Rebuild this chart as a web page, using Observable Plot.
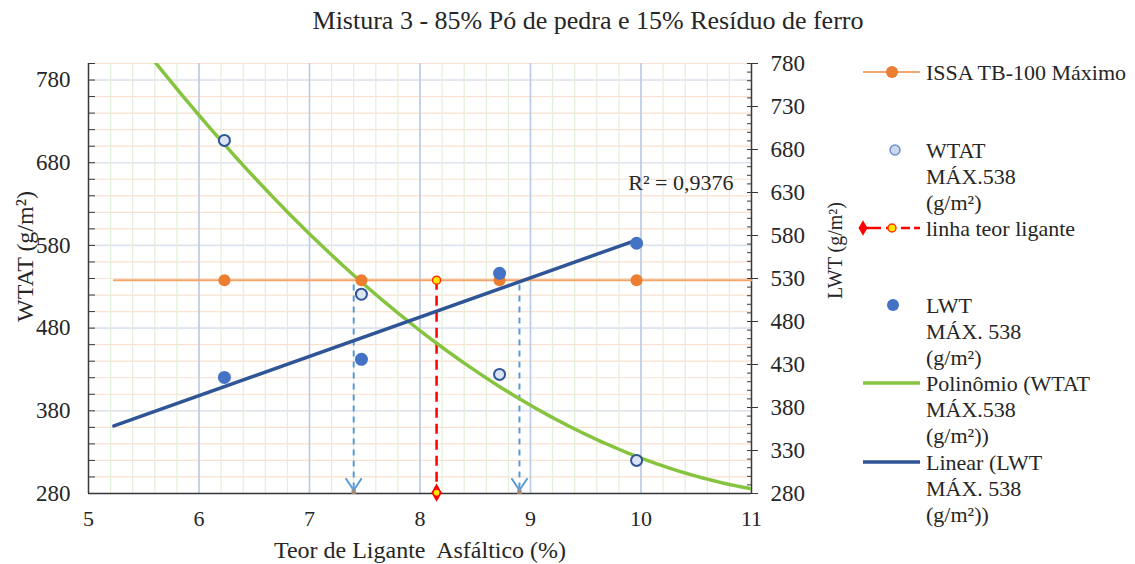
<!DOCTYPE html>
<html>
<head>
<meta charset="utf-8">
<title>Mistura 3 - 85% Pó de pedra e 15% Resíduo de ferro</title>
<script src="https://cdn.jsdelivr.net/npm/d3@7"></script>
<script src="https://cdn.jsdelivr.net/npm/@observablehq/plot@0.6"></script>
<style>
  body { margin: 0; background: #fff; }
  #grafico { position: relative; width: 1135px; height: 564px; font-family: 'Liberation Serif', serif; color: #262626; }
  #plot { position: absolute; left: 0; top: 0; width: 860px; }
  #titulo { position: absolute; left: 0; top: 4px; width: 1176px; text-align: center; font-family: 'Liberation Serif', serif; font-size: 26px; line-height: 34px; }
  #legenda { position: absolute; left: 840px; top: 0; }
</style>
</head>
<body>
<div id="grafico">
  <div id="plot"></div>
  <div id="titulo">Mistura 3 - 85% Pó de pedra e 15% Resíduo de ferro</div>
  <svg id="legenda" width="295" height="564"></svg>
</div>
<script>
// Teor de ligante asfáltico (%) dos corpos de prova
const teor = [6.23, 7.47, 8.72, 9.96];
// WTAT (g/m²) – eixo esquerdo
const wtat = [707, 521, 424, 320];
// LWT (g/m²) – eixo direito
const lwt = [415, 436, 536, 571];
// Limite ISSA TB-100 (g/m²)
const issaMax = 538;
// Faixa horizontal da linha ISSA (%)
const issaFaixa = [5.23, 11];
// Teores nos cruzamentos com o limite e teor de ligante escolhido (%)
const limites = [7.4, 8.9];
const teorLigante = 8.15;
// Coeficiente de determinação exibido
const r2Linear = 0.9376;

// Eixos
const xTicks = [5, 6, 7, 8, 9, 10, 11];
const yEsqTicks = [280, 380, 480, 580, 680, 780];
const yDirTicks = [280, 330, 380, 430, 480, 530, 580, 630, 680, 730, 780];
const xMin = 5, xMax = 11;
const yEsqMin = 280, yEsqMax = 800;
const yDirMin = 280, yDirMax = 780;

const fonte = "'Liberation Serif', serif";

// Conversão entre o eixo direito (LWT) e o esquerdo (WTAT)
const paraEsq = v => yEsqMin + (v - yDirMin) * (yEsqMax - yEsqMin) / (yDirMax - yDirMin);
const paraDir = v => yDirMin + (v - yEsqMin) * (yDirMax - yDirMin) / (yEsqMax - yEsqMin);

// Regressão linear por mínimos quadrados
function ajusteLinear(xs, ys) {
  const mx = d3.mean(xs), my = d3.mean(ys);
  const b = d3.sum(xs, (x, i) => (x - mx) * (ys[i] - my)) / d3.sum(xs, x => (x - mx) ** 2);
  return x => my + b * (x - mx);
}

// Regressão polinomial de 2ª ordem (equações normais)
function ajusteQuadratico(xs, ys) {
  const s = k => d3.sum(xs, x => x ** k);
  const t = k => d3.sum(xs, (x, i) => x ** k * ys[i]);
  const A = [[xs.length, s(1), s(2), t(0)], [s(1), s(2), s(3), t(1)], [s(2), s(3), s(4), t(2)]];
  for (let i = 0; i < 3; i++) {
    for (let j = i + 1; j < 3; j++) {
      const f = A[j][i] / A[i][i];
      for (let k = i; k < 4; k++) A[j][k] -= f * A[i][k];
    }
  }
  const c = [0, 0, 0];
  for (let i = 2; i >= 0; i--) {
    let v = A[i][3];
    for (let k = i + 1; k < 3; k++) v -= A[i][k] * c[k];
    c[i] = v / A[i][i];
  }
  return x => c[0] + c[1] * x + c[2] * x * x;
}

// Ponta de seta aberta em "V"
const pontaSeta = {
  draw(context, size) {
    const r = Math.sqrt(size / Math.PI);
    context.moveTo(-r, -1.5 * r);
    context.lineTo(0, 0);
    context.lineTo(r, -1.5 * r);
  }
};

const pontos = teor.map((x, i) => ({x, wtat: wtat[i], lwt: lwt[i]}));

const poli = ajusteQuadratico(teor, wtat);
const curva = d3.range(xMin, xMax + 1e-9, 0.05).map(x => ({x, y: poli(x)}));

const lin = ajusteLinear(teor, lwt);
const reta = [teor[0] - 1, teor[teor.length - 1]].map(x => ({x, y: paraEsq(lin(x))}));

const eixo = "#3a3a3a";

const grafico = Plot.plot({
  width: 860,
  height: 564,
  marginTop: 63,
  marginBottom: 71,
  marginLeft: 88,
  marginRight: 109,
  x: {domain: [xMin, xMax]},
  y: {domain: [yEsqMin, yEsqMax]},
  style: {fontFamily: fonte, fontSize: "23px", background: "transparent", color: "#262626"},
  marks: [
    // grade
    Plot.ruleY(d3.range(yEsqMin, yEsqMax + 1, 20), {stroke: "#fbe1cf", strokeWidth: 1.2}),
    Plot.ruleY(yEsqTicks, {stroke: "#dde5f3", strokeWidth: 1.6}),
    Plot.ruleX(d3.range(50, 111, 2).map(d => d / 10), {stroke: "#e1efd8", strokeWidth: 1.2}),
    Plot.ruleX(xTicks.slice(1, -1), {stroke: "#b9cbe9", strokeWidth: 1.6}),

    // eixos
    Plot.axisX({ticks: xTicks, tickFormat: d3.format("d"), tickSize: 0, tickPadding: 17, fontSize: 22, label: null}),
    Plot.axisY({ticks: yEsqTicks, tickFormat: d3.format("d"), tickSize: 0, tickPadding: 18, label: null}),
    Plot.axisY({ticks: d3.range(yEsqMin, yEsqMax + 1, 20), tickSize: 7, dx: 7, fill: "none", label: null, stroke: eixo}),
    Plot.axisY({anchor: "right", ticks: yDirTicks.map(paraEsq), tickFormat: d => String(Math.round(paraDir(d))), tickSize: 0, tickPadding: 19, label: null}),
    Plot.axisY({anchor: "right", ticks: d3.range(yDirMin, yDirMax + 1, 10).map(paraEsq), tickSize: 5, dx: -5, fill: "none", label: null, stroke: eixo}),
    Plot.axisY({anchor: "right", ticks: yDirTicks.map(paraEsq), tickSize: 11, dx: -5, fill: "none", label: null, stroke: eixo}),
    Plot.ruleX([xMin, xMax], {stroke: eixo, strokeWidth: 1.5}),
    Plot.ruleY([yEsqMin], {stroke: eixo, strokeWidth: 1.5}),

    // títulos dos eixos
    Plot.text(["WTAT (g/m²)"], {frameAnchor: "left", textAnchor: "middle", lineAnchor: "middle", rotate: -90, dx: -63, dy: -22, fontSize: 24}),
    Plot.text(["LWT (g/m²)"], {frameAnchor: "right", textAnchor: "middle", lineAnchor: "middle", rotate: -90, dx: 84, dy: -28, fontSize: 20}),
    Plot.text(["Teor de Ligante  Asfáltico (%)"], {frameAnchor: "bottom", lineAnchor: "middle", dy: 57, fontSize: 24}),

    // limite ISSA TB-100
    Plot.line(issaFaixa.map(x => ({x, y: issaMax})), {x: "x", y: "y", stroke: "#f3a56c", strokeWidth: 2}),

    // linhas de teor
    Plot.ruleX(limites, {y1: issaMax - 6, y2: yEsqMin + 3, stroke: "#5b9bd5", strokeWidth: 2, strokeDasharray: "6,5"}),
    Plot.dot(limites, {x: d => d, y: yEsqMin + 4, symbol: pontaSeta, r: 8, stroke: "#5b9bd5", strokeWidth: 2, fill: "none"}),
    Plot.dot(limites, {x: d => d, y: yEsqMin + 2, symbol: "square", r: 2.5, fill: "#a58a7a"}),
    Plot.ruleX([teorLigante], {y1: issaMax, y2: yEsqMin, stroke: "#ff0000", strokeWidth: 2.5, strokeDasharray: "10,6"}),

    // linhas de tendência
    Plot.line(curva, {x: "x", y: "y", stroke: "#86c440", strokeWidth: 3.5, clip: true}),
    Plot.line(reta, {x: "x", y: "y", stroke: "#2f5597", strokeWidth: 3.5}),

    // pontos
    Plot.dot(teor, {x: d => d, y: issaMax, r: 6, fill: "#ed7d31"}),
    Plot.dot(pontos, {x: "x", y: "wtat", r: 5.5, fill: "#dbe4f4", stroke: "#2f5597", strokeWidth: 2}),
    Plot.dot(pontos, {x: "x", y: d => paraEsq(d.lwt), r: 6.5, fill: "#4472c4"}),
    Plot.dot([teorLigante], {x: d => d, y: issaMax, r: 4, fill: "#ffe600", stroke: "#ff3300", strokeWidth: 1.5}),
    Plot.dot([teorLigante], {x: d => d, y: yEsqMin + 1, symbol: "diamond", r: 5.5, fill: "#ff0000"}),
    Plot.dot([teorLigante], {x: d => d, y: yEsqMin + 1, r: 2.8, fill: "#ffe600"}),

    // R² da reta
    Plot.text([`R² = ${d3.format(".4f")(r2Linear).replace(".", ",")}`], {frameAnchor: "top-right", dx: -18, dy: 119, textAnchor: "end", lineAnchor: "middle", fontSize: 22})
  ]
});
document.getElementById("plot").appendChild(grafico);

// Legenda
const legendaItens = [
  {tipo: "linhaPonto", y: 72, linhas: ["ISSA TB-100 Máximo"]},
  {tipo: "circuloAberto", y: 150, linhas: ["WTAT", "MÁX.538", "(g/m²)"]},
  {tipo: "teor", y: 228, linhas: ["linha teor ligante"]},
  {tipo: "circuloCheio", y: 305, linhas: ["LWT", "MÁX. 538", "(g/m²)"]},
  {tipo: "linhaVerde", y: 383, linhas: ["Polinômio (WTAT", "MÁX.538", "(g/m²))"]},
  {tipo: "linhaAzul", y: 462, linhas: ["Linear (LWT", "MÁX. 538", "(g/m²))"]}
];
const passo = 26.2;
const leg = d3.select("#legenda");
for (const item of legendaItens) {
  const g = leg.append("g").attr("transform", `translate(0,${item.y})`);
  if (item.tipo === "linhaPonto") {
    g.append("line").attr("x1", 23).attr("x2", 80).attr("stroke", "#f3a56c").attr("stroke-width", 2);
    g.append("circle").attr("cx", 52).attr("r", 6).attr("fill", "#ed7d31");
  } else if (item.tipo === "circuloAberto") {
    g.append("circle").attr("cx", 55).attr("r", 5).attr("fill", "#cad7ef").attr("stroke", "#6f8fcf").attr("stroke-width", 1.5);
  } else if (item.tipo === "teor") {
    g.append("line").attr("x1", 23).attr("x2", 80).attr("stroke", "#ff0000").attr("stroke-width", 2.5).attr("stroke-dasharray", "18,5,9,6,9,4");
    g.append("path").attr("d", d3.symbol(d3.symbolDiamond, 70)()).attr("transform", "translate(23,0)").attr("fill", "#ff0000");
    g.append("circle").attr("cx", 52).attr("r", 4).attr("fill", "#ffe600").attr("stroke", "#ff3300").attr("stroke-width", 1.5);
  } else if (item.tipo === "circuloCheio") {
    g.append("circle").attr("cx", 53).attr("r", 6).attr("fill", "#4472c4");
  } else {
    g.append("line").attr("x1", 23).attr("x2", 80).attr("stroke", item.tipo === "linhaVerde" ? "#86c440" : "#2f5597").attr("stroke-width", 3.5);
  }
  item.linhas.forEach((t, i) => {
    g.append("text").attr("x", 86).attr("y", i * passo).attr("dy", "0.35em")
      .style("font-family", fonte).attr("font-size", 22).attr("fill", "#262626").text(t);
  });
}
</script>
</body>
</html>
